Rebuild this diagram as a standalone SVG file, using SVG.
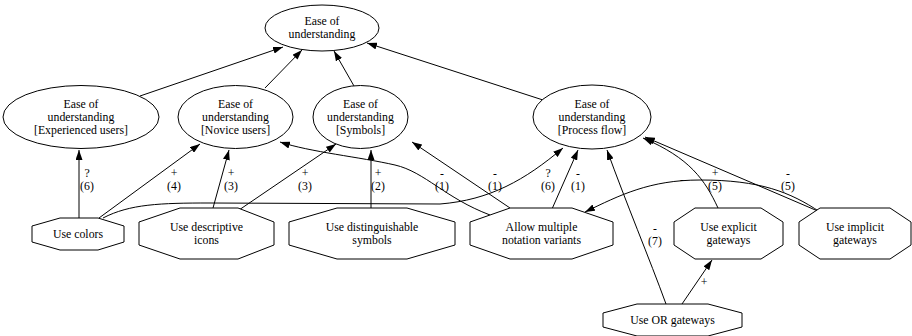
<svg xmlns="http://www.w3.org/2000/svg" width="912" height="336" viewBox="0 0 912 336" font-family="'Liberation Serif', 'Times New Roman', 'DejaVu Serif', serif">
<defs>
<marker id="ah" viewBox="0 0 10 7" refX="10" refY="3.5" markerWidth="10" markerHeight="7" markerUnits="userSpaceOnUse" orient="auto">
<path d="M0,0 L10,3.5 L0,7 z" fill="#000"/>
</marker>
</defs>
<style>
.n ellipse, .n polygon { fill: #fff; stroke: #000; stroke-width: 1; }
text { font-family: 'Liberation Serif', 'Times New Roman', 'DejaVu Serif', serif; font-size: 11.8px; fill: #000; text-anchor: middle; }
.e path { fill: none; stroke: #000; stroke-width: 1; marker-end: url(#ah); }
</style>
<rect width="912" height="336" fill="#fff"/>

<g id="connectors" class="e">
<path d="M140,96 L283,47"/>
<path d="M265,88 L302,50"/>
<path d="M354,86 L334,51"/>
<path d="M543,100 L367,43"/>
<path d="M79,218 L79,150"/>
<path d="M99,218 L200,144"/>
<path d="M213,208 L229,150"/>
<path d="M239,210 L336,144"/>
<path d="M371,208 L371,150"/>
<path d="M490,215 C445,198 425,172 395,165 C360,157 310,152 280,142"/>
<path d="M510,208 L412,142"/>
<path d="M103,218 C130,204 160,203 210,203 L440,204 C490,200 525,180 563,148"/>
<path d="M552,209 L578,150"/>
<path d="M666,304 C650,260 625,200 607,150"/>
<path d="M682,304 L712,260"/>
<path d="M718,208 C705,180 690,158 643,138"/>
<path d="M820,212 L645,137"/>
<path d="M820,212 C790,192 760,180 700,180 C650,180 620,195 585,212"/>
<g id="edge-labels">
<text x="87" y="177">?</text><text x="87" y="190">(6)</text>
<text x="174" y="177">+</text><text x="174" y="190">(4)</text>
<text x="231" y="177">+</text><text x="231" y="190">(3)</text>
<text x="305" y="177">+</text><text x="305" y="190">(3)</text>
<text x="378" y="177">+</text><text x="378" y="190">(2)</text>
<text x="442" y="177">-</text><text x="442" y="190">(1)</text>
<text x="495" y="177">-</text><text x="495" y="190">(1)</text>
<text x="548" y="177">?</text><text x="548" y="190">(6)</text>
<text x="578" y="177">-</text><text x="578" y="190">(1)</text>
<text x="655" y="232">-</text><text x="655" y="245">(7)</text>
<text x="715" y="177">+</text><text x="715" y="190">(5)</text>
<text x="682" y="183">-</text>
<text x="788" y="177">-</text><text x="788" y="190">(5)</text>
<text x="704" y="286">+</text>
</g>
</g>

<g id="ease" class="n">
<ellipse cx="322" cy="28" rx="57" ry="23"/>
<text x="322" y="25">Ease of</text><text x="322" y="38">understanding</text>
</g>
<g id="ease-experienced" class="n">
<ellipse cx="81" cy="117" rx="78" ry="31.5"/>
<text x="81" y="108">Ease of</text><text x="81" y="121">understanding</text><text x="81" y="134">[Experienced users]</text>
</g>
<g id="ease-novice" class="n">
<ellipse cx="235.5" cy="117" rx="57.5" ry="31.5"/>
<text x="235.5" y="108">Ease of</text><text x="235.5" y="121">understanding</text><text x="235.5" y="134">[Novice users]</text>
</g>
<g id="ease-symbols" class="n">
<ellipse cx="360.5" cy="117" rx="47.5" ry="31.5"/>
<text x="360.5" y="108">Ease of</text><text x="360.5" y="121">understanding</text><text x="360.5" y="134">[Symbols]</text>
</g>
<g id="ease-process" class="n">
<ellipse cx="592" cy="117" rx="59" ry="32"/>
<text x="592" y="108">Ease of</text><text x="592" y="121">understanding</text><text x="592" y="134">[Process flow]</text>
</g>

<g id="use-colors" class="n">
<polygon points="60,218 98,218 124,226 124,242 98,250 60,250 32,242 32,226"/>
<text x="78" y="238">Use colors</text>
</g>
<g id="use-descriptive-icons" class="n">
<polygon points="180,208 238,208 274,222 274,245 238,259 180,259 139,245 139,222"/>
<text x="206.5" y="231">Use descriptive</text><text x="206.5" y="244">icons</text>
</g>
<g id="use-distinguishable-symbols" class="n">
<polygon points="337,208 407,208 455,222 455,245 407,259 337,259 289,245 289,222"/>
<text x="372" y="231">Use distinguishable</text><text x="372" y="244">symbols</text>
</g>
<g id="allow-multiple" class="n">
<polygon points="510,208 572,208 613,222 613,245 572,259 510,259 470,245 470,222"/>
<text x="541.5" y="231">Allow multiple</text><text x="541.5" y="244">notation variants</text>
</g>
<g id="use-explicit-gateways" class="n">
<polygon points="695,208 761,208 783,222 783,245 761,259 695,259 674,245 674,222"/>
<text x="728.5" y="231">Use explicit</text><text x="728.5" y="244">gateways</text>
</g>
<g id="use-implicit-gateways" class="n">
<polygon points="820,208 890,208 911,222 911,245 890,259 820,259 799,245 799,222"/>
<text x="855" y="231">Use implicit</text><text x="855" y="244">gateways</text>
</g>
<g id="use-or-gateways" class="n">
<polygon points="637,304 708,304 742,313 742,327 708,336 637,336 603,327 603,313"/>
<text x="672.5" y="324">Use OR gateways</text>
</g>
</svg>
